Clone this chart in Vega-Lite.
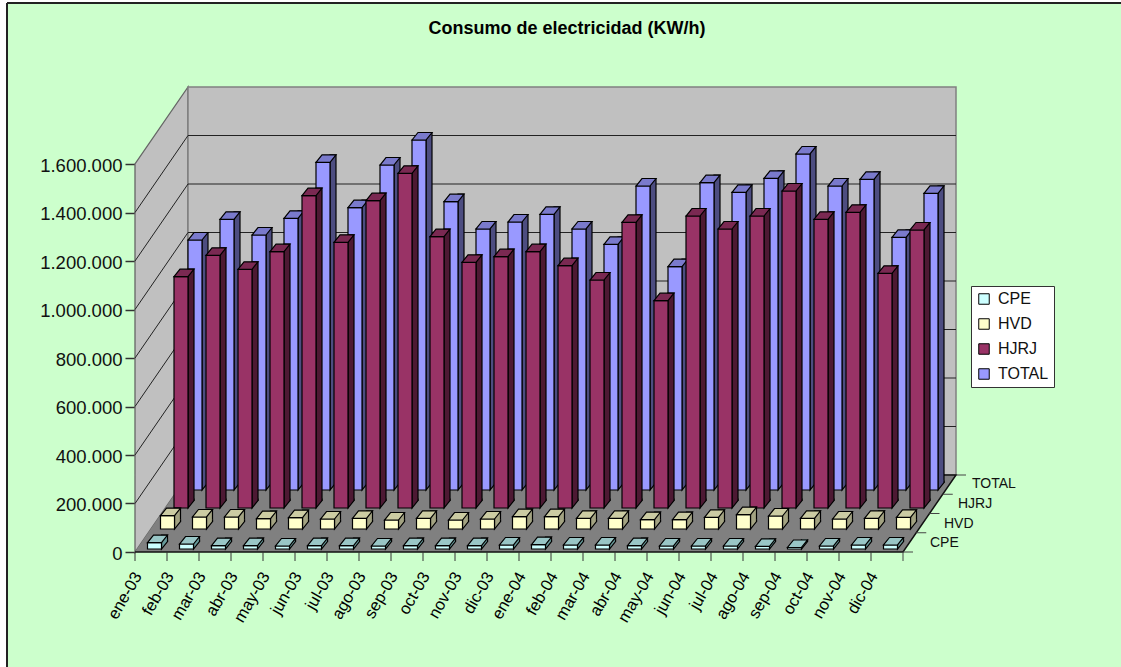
{"$schema":"https://vega.github.io/schema/vega-lite/v6.json","autosize":{"type":"none"},"padding":{"left":7,"top":3,"right":0,"bottom":0},"width":1114,"height":664,"background":"white","view":{"fill":"#ccffcc","stroke":null},
"title":{"text":"Consumo de electricidad (KW/h)","font":"Liberation Sans","fontSize":18,"fontWeight":"bold","color":"#000","anchor":"middle","frame":"group","offset":-36,"dx":3},
"config":{"font":"Liberation Sans"},
"data":{"values":[
{"mes":"ene-03","i":0,"serie":"CPE","valor":26000},{"mes":"feb-03","i":1,"serie":"CPE","valor":20600},{"mes":"mar-03","i":2,"serie":"CPE","valor":13600},{"mes":"abr-03","i":3,"serie":"CPE","valor":13600},{"mes":"may-03","i":4,"serie":"CPE","valor":12400},{"mes":"jun-03","i":5,"serie":"CPE","valor":13600},{"mes":"jul-03","i":6,"serie":"CPE","valor":13600},{"mes":"ago-03","i":7,"serie":"CPE","valor":12400},{"mes":"sep-03","i":8,"serie":"CPE","valor":13600},{"mes":"oct-03","i":9,"serie":"CPE","valor":13600},{"mes":"nov-03","i":10,"serie":"CPE","valor":13600},{"mes":"dic-03","i":11,"serie":"CPE","valor":16500},{"mes":"ene-04","i":12,"serie":"CPE","valor":17700},{"mes":"feb-04","i":13,"serie":"CPE","valor":16500},{"mes":"mar-04","i":14,"serie":"CPE","valor":16500},{"mes":"abr-04","i":15,"serie":"CPE","valor":13600},{"mes":"may-04","i":16,"serie":"CPE","valor":12400},{"mes":"jun-04","i":17,"serie":"CPE","valor":12400},{"mes":"jul-04","i":18,"serie":"CPE","valor":12400},{"mes":"ago-04","i":19,"serie":"CPE","valor":11100},{"mes":"sep-04","i":20,"serie":"CPE","valor":6200},{"mes":"oct-04","i":21,"serie":"CPE","valor":12400},{"mes":"nov-04","i":22,"serie":"CPE","valor":16500},{"mes":"dic-04","i":23,"serie":"CPE","valor":16500},
{"mes":"ene-03","i":0,"serie":"HVD","valor":54800},{"mes":"feb-03","i":1,"serie":"HVD","valor":49500},{"mes":"mar-03","i":2,"serie":"HVD","valor":49500},{"mes":"abr-03","i":3,"serie":"HVD","valor":42500},{"mes":"may-03","i":4,"serie":"HVD","valor":46600},{"mes":"jun-03","i":5,"serie":"HVD","valor":41200},{"mes":"jul-03","i":6,"serie":"HVD","valor":44100},{"mes":"ago-03","i":7,"serie":"HVD","valor":37100},{"mes":"sep-03","i":8,"serie":"HVD","valor":44100},{"mes":"oct-03","i":9,"serie":"HVD","valor":37100},{"mes":"nov-03","i":10,"serie":"HVD","valor":41200},{"mes":"dic-03","i":11,"serie":"HVD","valor":50700},{"mes":"ene-04","i":12,"serie":"HVD","valor":50700},{"mes":"feb-04","i":13,"serie":"HVD","valor":44100},{"mes":"mar-04","i":14,"serie":"HVD","valor":44100},{"mes":"abr-04","i":15,"serie":"HVD","valor":38400},{"mes":"may-04","i":16,"serie":"HVD","valor":38400},{"mes":"jun-04","i":17,"serie":"HVD","valor":48200},{"mes":"jul-04","i":18,"serie":"HVD","valor":59000},{"mes":"ago-04","i":19,"serie":"HVD","valor":53600},{"mes":"sep-04","i":20,"serie":"HVD","valor":44100},{"mes":"oct-04","i":21,"serie":"HVD","valor":41200},{"mes":"nov-04","i":22,"serie":"HVD","valor":44100},{"mes":"dic-04","i":23,"serie":"HVD","valor":48200},
{"mes":"ene-03","i":0,"serie":"HJRJ","valor":953800},{"mes":"feb-03","i":1,"serie":"HJRJ","valor":1042100},{"mes":"mar-03","i":2,"serie":"HJRJ","valor":984300},{"mes":"abr-03","i":3,"serie":"HJRJ","valor":1056900},{"mes":"may-03","i":4,"serie":"HJRJ","valor":1287800},{"mes":"jun-03","i":5,"serie":"HJRJ","valor":1095700},{"mes":"jul-03","i":6,"serie":"HJRJ","valor":1267200},{"mes":"ago-03","i":7,"serie":"HJRJ","valor":1380200},{"mes":"sep-03","i":8,"serie":"HJRJ","valor":1118800},{"mes":"oct-03","i":9,"serie":"HJRJ","valor":1013200},{"mes":"nov-03","i":10,"serie":"HJRJ","valor":1036300},{"mes":"dic-03","i":11,"serie":"HJRJ","valor":1056900},{"mes":"ene-04","i":12,"serie":"HJRJ","valor":999200},{"mes":"feb-04","i":13,"serie":"HJRJ","valor":940200},{"mes":"mar-04","i":14,"serie":"HJRJ","valor":1178100},{"mes":"abr-04","i":15,"serie":"HJRJ","valor":854900},{"mes":"may-04","i":16,"serie":"HJRJ","valor":1204100},{"mes":"jun-04","i":17,"serie":"HJRJ","valor":1150500},{"mes":"jul-04","i":18,"serie":"HJRJ","valor":1204100},{"mes":"ago-04","i":19,"serie":"HJRJ","valor":1307200},{"mes":"sep-04","i":20,"serie":"HJRJ","valor":1190500},{"mes":"oct-04","i":21,"serie":"HJRJ","valor":1219400},{"mes":"nov-04","i":22,"serie":"HJRJ","valor":967800},{"mes":"dic-04","i":23,"serie":"HJRJ","valor":1146400},
{"mes":"ene-03","i":0,"serie":"TOTAL","valor":1030900},{"mes":"feb-03","i":1,"serie":"TOTAL","valor":1116300},{"mes":"mar-03","i":2,"serie":"TOTAL","valor":1051500},{"mes":"abr-03","i":3,"serie":"TOTAL","valor":1120400},{"mes":"may-03","i":4,"serie":"TOTAL","valor":1351300},{"mes":"jun-03","i":5,"serie":"TOTAL","valor":1164100},{"mes":"jul-03","i":6,"serie":"TOTAL","valor":1340200},{"mes":"ago-03","i":7,"serie":"TOTAL","valor":1443300},{"mes":"sep-03","i":8,"serie":"TOTAL","valor":1188900},{"mes":"oct-03","i":9,"serie":"TOTAL","valor":1076300},{"mes":"nov-03","i":10,"serie":"TOTAL","valor":1105100},{"mes":"dic-03","i":11,"serie":"TOTAL","valor":1136900},{"mes":"ene-04","i":12,"serie":"TOTAL","valor":1076300},{"mes":"feb-04","i":13,"serie":"TOTAL","valor":1013200},{"mes":"mar-04","i":14,"serie":"TOTAL","valor":1253600},{"mes":"abr-04","i":15,"serie":"TOTAL","valor":920800},{"mes":"may-04","i":16,"serie":"TOTAL","valor":1267200},{"mes":"jun-04","i":17,"serie":"TOTAL","valor":1227600},{"mes":"jul-04","i":18,"serie":"TOTAL","valor":1285300},{"mes":"ago-04","i":19,"serie":"TOTAL","valor":1385600},{"mes":"sep-04","i":20,"serie":"TOTAL","valor":1253600},{"mes":"oct-04","i":21,"serie":"TOTAL","valor":1281200},{"mes":"nov-04","i":22,"serie":"TOTAL","valor":1042100},{"mes":"dic-04","i":23,"serie":"TOTAL","valor":1223500}
]},
"encoding":{
"x":{"field":"i","type":"quantitative","scale":{"domain":[-4,30.8125],"nice":false,"zero":false,"padding":0},"axis":{"title":null,"orient":"bottom","offset":-115,"domain":false,"ticks":false,"grid":false,"values":[0.08,1.08,2.08,3.08,4.08,5.08,6.08,7.08,8.08,9.08,10.08,11.08,12.08,13.08,14.08,15.08,16.08,17.08,18.08,19.08,20.08,21.08,22.08,23.08],"labelExpr":"['ene-03','feb-03','mar-03','abr-03','may-03','jun-03','jul-03','ago-03','sep-03','oct-03','nov-03','dic-03','ene-04','feb-04','mar-04','abr-04','may-04','jun-04','jul-04','ago-04','sep-04','oct-04','nov-04','dic-04'][floor(datum.value)]","labelAngle":-60,"labelAlign":"right","labelBaseline":"middle","labelFontSize":16.5,"labelFont":"Liberation Sans","labelColor":"#000","labelPadding":21,"labelOverlap":false,"labelBound":false,"labelFlush":false}},
"y":{"field":"valor","type":"quantitative","scale":{"domain":[-474227,2263918],"nice":false,"zero":false},"axis":{"title":null,"orient":"left","offset":-128,"domain":false,"grid":false,"values":[0,200000,400000,600000,800000,1000000,1200000,1400000,1600000],"labelExpr":"replace(format(datum.value,','),/,/g,'.')","labelFontSize":18.5,"labelFont":"Liberation Sans","labelColor":"#111","labelPadding":3,"labelOffset":1,"tickSize":10,"tickColor":"#333","tickWidth":1.5,"labelOverlap":false,"labelBound":false,"labelFlush":false}}
},
"layer":[
{"transform":[{"filter":"datum.serie=='CPE'&&datum.i==0"}],"mark":{"type":"rule","stroke":"#222","strokeWidth":2},"encoding":{"x":{"datum":-4,"type":"quantitative"},"y":{"datum":2263918,"type":"quantitative"},"y2":{"datum":-474227}}},
{"transform":[{"filter":"datum.serie=='CPE'&&datum.i==0"}],"mark":{"type":"rule","stroke":"#222","strokeWidth":2},"encoding":{"y":{"datum":2263918,"type":"quantitative"},"x":{"datum":-4,"type":"quantitative"},"x2":{"datum":30.8125}}},
{"transform":[{"filter":"datum.serie=='CPE'&&datum.i==0"}],"mark":{"type":"point","filled":true,"opacity":1,"size":4,"shape":"M0 0 L53 -77 L53 -465 L0 -388 Z","fill":"#c0c0c0","stroke":"#666","strokeWidth":1.3},"encoding":{"y":{"datum":0,"type":"quantitative"}}},
{"transform":[{"filter":"datum.serie=='CPE'&&datum.i==0"}],"mark":{"type":"point","filled":true,"opacity":1,"size":4,"shape":"M53 -77 L821 -77 L821 -465 L53 -465 Z","fill":"#c0c0c0","stroke":"#808080","strokeWidth":1.5},"encoding":{"y":{"datum":0,"type":"quantitative"}}},
{"transform":[{"filter":"datum.serie=='CPE'&&datum.i==0"}],"mark":{"type":"point","filled":false,"opacity":1,"size":4,"shape":"M0 -48.5 L53 -125.5 L821 -125.5 M0 -97 L53 -174 L821 -174 M0 -145.5 L53 -222.5 L821 -222.5 M0 -194 L53 -271 L821 -271 M0 -242.5 L53 -319.5 L821 -319.5 M0 -291 L53 -368 L821 -368 M0 -339.5 L53 -416.5 L821 -416.5","stroke":"#222","strokeWidth":1},"encoding":{"y":{"datum":0,"type":"quantitative"}}},
{"transform":[{"filter":"datum.serie=='CPE'&&datum.i==0"}],"mark":{"type":"point","filled":true,"opacity":1,"size":4,"shape":"M0 0 L768 0 L821 -77 L53 -77","fill":"#808080","stroke":"#111","strokeWidth":1.5},"encoding":{"y":{"datum":0,"type":"quantitative"}}},
{"transform":[{"filter":"datum.serie=='CPE'&&datum.i==0"}],"mark":{"type":"point","filled":false,"opacity":1,"size":4,"shape":"M768 0 h10 M781.25 -19.25 h10 M794.5 -38.5 h10 M807.75 -57.75 h10 M821 -77 h10 M768 0 v9","stroke":"#444","strokeWidth":1},"encoding":{"y":{"datum":0,"type":"quantitative"}}},
{"transform":[{"filter":"datum.serie=='CPE'"}],"mark":{"type":"point","filled":false,"opacity":1,"size":4,"shape":"M0 0 V9","stroke":"#333","strokeWidth":1},"encoding":{"y":{"datum":0,"type":"quantitative"}}},
{"transform":[{"filter":"datum.serie=='TOTAL'&&datum.i==0"}],"mark":{"type":"text","align":"left","baseline":"middle","fontSize":14,"color":"#111","dx":69,"dy":-68},"encoding":{"text":{"field":"serie"},"x":{"datum":24,"type":"quantitative"},"y":{"datum":0,"type":"quantitative"}}},
{"transform":[{"filter":"datum.serie=='HJRJ'&&datum.i==0"}],"mark":{"type":"text","align":"left","baseline":"middle","fontSize":14,"color":"#111","dx":55,"dy":-48},"encoding":{"text":{"field":"serie"},"x":{"datum":24,"type":"quantitative"},"y":{"datum":0,"type":"quantitative"}}},
{"transform":[{"filter":"datum.serie=='HVD'&&datum.i==0"}],"mark":{"type":"text","align":"left","baseline":"middle","fontSize":14,"color":"#111","dx":41,"dy":-28},"encoding":{"text":{"field":"serie"},"x":{"datum":24,"type":"quantitative"},"y":{"datum":0,"type":"quantitative"}}},
{"transform":[{"filter":"datum.serie=='CPE'&&datum.i==0"}],"mark":{"type":"text","align":"left","baseline":"middle","fontSize":14,"color":"#111","dx":27,"dy":-9},"encoding":{"text":{"field":"serie"},"x":{"datum":24,"type":"quantitative"},"y":{"datum":0,"type":"quantitative"}}},

{"transform":[{"filter":"datum.serie=='TOTAL'"}],"mark":{"type":"bar","orient":"vertical","width":6,"xOffset":70,"yOffset":-69.5,"y2Offset":-69.5,"fill":"#4d4d80","stroke":"#000","strokeWidth":1.2},"encoding":{"y2":{"datum":0}}},
{"transform":[{"filter":"datum.serie=='TOTAL'"}],"mark":{"type":"point","filled":true,"opacity":1,"size":4,"xOffset":60,"yOffset":-62,"shape":"M7 -9.5 L7 0 L13 -7.5 L13 -9.5","fill":"#4d4d80","stroke":"#000","strokeWidth":1.2},"encoding":{"y":{"datum":0,"type":"quantitative"}}},
{"transform":[{"filter":"datum.serie=='TOTAL'"}],"mark":{"type":"bar","orient":"vertical","width":14,"xOffset":60,"yOffset":-62,"y2Offset":-62,"stroke":"#000","strokeWidth":1.2},"encoding":{"y2":{"datum":0},"color":{"field":"serie","type":"nominal","scale":{"domain":["CPE","HVD","HJRJ","TOTAL"],"range":["#ccffff","#ffffcc","#993366","#9999ff"]},"legend":{"title":null,"orient":"none","legendX":964,"legendY":283,"fillColor":"white","strokeColor":"#333","padding":5,"symbolType":"square","symbolSize":110,"symbolStrokeColor":"#111","symbolStrokeWidth":1,"labelFontSize":16,"labelFont":"Liberation Sans","labelColor":"#111","rowPadding":9,"labelOffset":6,"values":["CPE","HVD","HJRJ","TOTAL"]}}}},
{"transform":[{"filter":"datum.serie=='TOTAL'"}],"mark":{"type":"point","filled":true,"opacity":1,"size":4,"xOffset":60,"yOffset":-62,"shape":"M-7 0 L-1 -7.5 L13 -7.5 L7 0 Z","fill":"#7a7acc","stroke":"#000","strokeWidth":1.2}},

{"transform":[{"filter":"datum.serie=='HJRJ'"}],"mark":{"type":"bar","orient":"vertical","width":6,"xOffset":56,"yOffset":-51.5,"y2Offset":-51.5,"fill":"#4d1933","stroke":"#000","strokeWidth":1.2},"encoding":{"y2":{"datum":0}}},
{"transform":[{"filter":"datum.serie=='HJRJ'"}],"mark":{"type":"point","filled":true,"opacity":1,"size":4,"xOffset":46,"yOffset":-44,"shape":"M7 -9.5 L7 0 L13 -7.5 L13 -9.5","fill":"#4d1933","stroke":"#000","strokeWidth":1.2},"encoding":{"y":{"datum":0,"type":"quantitative"}}},
{"transform":[{"filter":"datum.serie=='HJRJ'"}],"mark":{"type":"bar","orient":"vertical","width":14,"xOffset":46,"yOffset":-44,"y2Offset":-44,"stroke":"#000","strokeWidth":1.2},"encoding":{"y2":{"datum":0},"color":{"field":"serie","type":"nominal","scale":{"domain":["CPE","HVD","HJRJ","TOTAL"],"range":["#ccffff","#ffffcc","#993366","#9999ff"]}}}},
{"transform":[{"filter":"datum.serie=='HJRJ'"}],"mark":{"type":"point","filled":true,"opacity":1,"size":4,"xOffset":46,"yOffset":-44,"shape":"M-7 0 L-1 -7.5 L13 -7.5 L7 0 Z","fill":"#7a2952","stroke":"#000","strokeWidth":1.2}},

{"transform":[{"filter":"datum.serie=='HVD'"}],"mark":{"type":"bar","orient":"vertical","width":6,"xOffset":42.5,"yOffset":-30.5,"y2Offset":-30.5,"fill":"#a3a382","stroke":"#000","strokeWidth":1.2},"encoding":{"y2":{"datum":0}}},
{"transform":[{"filter":"datum.serie=='HVD'"}],"mark":{"type":"point","filled":true,"opacity":1,"size":4,"xOffset":32.5,"yOffset":-23,"shape":"M7 -9.5 L7 0 L13 -7.5 L13 -9.5","fill":"#a3a382","stroke":"#000","strokeWidth":1.2},"encoding":{"y":{"datum":0,"type":"quantitative"}}},
{"transform":[{"filter":"datum.serie=='HVD'"}],"mark":{"type":"bar","orient":"vertical","width":14,"xOffset":32.5,"yOffset":-23,"y2Offset":-23,"stroke":"#000","strokeWidth":1.2},"encoding":{"y2":{"datum":0},"color":{"field":"serie","type":"nominal","scale":{"domain":["CPE","HVD","HJRJ","TOTAL"],"range":["#ccffff","#ffffcc","#993366","#9999ff"]}}}},
{"transform":[{"filter":"datum.serie=='HVD'"}],"mark":{"type":"point","filled":true,"opacity":1,"size":4,"xOffset":32.5,"yOffset":-23,"shape":"M-7 0 L-1 -7.5 L13 -7.5 L7 0 Z","fill":"#cccca3","stroke":"#000","strokeWidth":1.2}},

{"transform":[{"filter":"datum.serie=='CPE'"}],"mark":{"type":"bar","orient":"vertical","width":6,"xOffset":29.5,"yOffset":-10.5,"y2Offset":-10.5,"fill":"#669999","stroke":"#000","strokeWidth":1.2},"encoding":{"y2":{"datum":0}}},
{"transform":[{"filter":"datum.serie=='CPE'"}],"mark":{"type":"point","filled":true,"opacity":1,"size":4,"xOffset":19.5,"yOffset":-3,"shape":"M7 -9.5 L7 0 L13 -7.5 L13 -9.5","fill":"#669999","stroke":"#000","strokeWidth":1.2},"encoding":{"y":{"datum":0,"type":"quantitative"}}},
{"transform":[{"filter":"datum.serie=='CPE'"}],"mark":{"type":"bar","orient":"vertical","width":14,"xOffset":19.5,"yOffset":-3,"y2Offset":-3,"stroke":"#000","strokeWidth":1.2},"encoding":{"y2":{"datum":0},"color":{"field":"serie","type":"nominal","scale":{"domain":["CPE","HVD","HJRJ","TOTAL"],"range":["#ccffff","#ffffcc","#993366","#9999ff"]}}}},
{"transform":[{"filter":"datum.serie=='CPE'"}],"mark":{"type":"point","filled":true,"opacity":1,"size":4,"xOffset":19.5,"yOffset":-3,"shape":"M-7 0 L-1 -7.5 L13 -7.5 L7 0 Z","fill":"#99c6c6","stroke":"#000","strokeWidth":1.2}}
]}
